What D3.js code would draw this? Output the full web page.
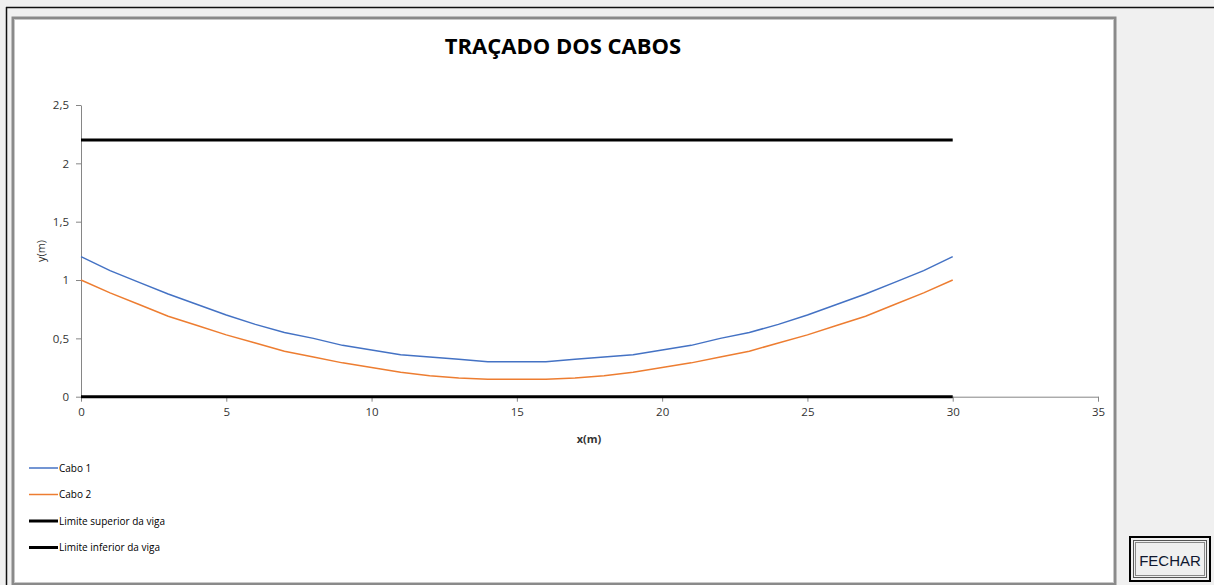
<!DOCTYPE html>
<html>
<head>
<meta charset="utf-8">
<script src="https://cdn.jsdelivr.net/npm/d3@7"></script>
<style>
  body { margin: 0; background: #f0f0f0; }
  text { font-family: "Open Sans", sans-serif; }
</style>
</head>
<body>
<div id="chart"></div>
<script>
// positions along the beam (m)
const xValues = [0,1,2,3,4,5,6,7,8,9,10,11,12,13,14,15,16,17,18,19,20,21,22,23,24,25,26,27,28,29,30];
const cabo1 = [1.20,1.08,0.98,0.88,0.79,0.70,0.62,0.55,0.50,0.44,0.40,0.36,0.34,0.32,0.30,0.30,0.30,0.32,0.34,0.36,0.40,0.44,0.50,0.55,0.62,0.70,0.79,0.88,0.98,1.08,1.20];
const cabo2 = [1.00,0.89,0.79,0.69,0.61,0.53,0.46,0.39,0.34,0.29,0.25,0.21,0.18,0.16,0.15,0.15,0.15,0.16,0.18,0.21,0.25,0.29,0.34,0.39,0.46,0.53,0.61,0.69,0.79,0.89,1.00];
const limiteX = [0, 30];
const limiteSuperior = [2.2, 2.2];
const limiteInferior = [0, 0];
const xTicks = [0,5,10,15,20,25,30,35];
const yTicks = [0,0.5,1,1.5,2,2.5];
const seriesNames = ["Cabo 1","Cabo 2","Limite superior da viga","Limite inferior da viga"];

let conf = {
    width: 1214, height: 585,
    left: 81, right: 1098, top: 105, bottom: 396.7
};

const svg = d3.select("#chart").append("svg")
    .attr("width", conf.width)
    .attr("height", conf.height);

// window frame
svg.append("rect").attr("x", 0).attr("y", 0).attr("width", conf.width).attr("height", conf.height).attr("fill", "#f0f0f0");
svg.append("line").attr("x1", 6).attr("x2", conf.width).attr("y1", 7.5).attr("y2", 7.5).attr("stroke", "#111").attr("stroke-width", 1.5);
svg.append("line").attr("x1", 6.5).attr("x2", 6.5).attr("y1", 7).attr("y2", conf.height).attr("stroke", "#111").attr("stroke-width", 1.5);
svg.append("rect").attr("x", 13).attr("y", 18).attr("width", 1102).attr("height", 566)
    .attr("fill", "#fff").attr("stroke", "#8a8a8a").attr("stroke-width", 3);
svg.append("rect").attr("x", 14.5).attr("y", 19.5).attr("width", 1099).attr("height", 563)
    .attr("fill", "none").attr("stroke", "#c8c8c8").attr("stroke-width", 1);

// title
svg.append("text")
    .attr("x", 563).attr("y", 54)
    .attr("text-anchor", "middle")
    .style("font-size", "22px").style("font-weight", "bold")
    .attr("fill", "#000")
    .text("TRAÇADO DOS CABOS");

let x = d3.scaleLinear().domain([0, 35]).range([conf.left, conf.right]);
let y = d3.scaleLinear().domain([0, 2.5]).range([conf.bottom, conf.top]);

// axes
let xAxis = svg.append("g")
    .attr("transform", `translate(0,${conf.bottom})`)
    .call(d3.axisBottom(x).tickValues(xTicks).tickSize(5).tickSizeOuter(0).tickPadding(6));
let yAxis = svg.append("g")
    .attr("transform", `translate(${conf.left},0)`)
    .call(d3.axisLeft(y).tickValues(yTicks).tickSize(5).tickSizeOuter(0).tickPadding(7)
        .tickFormat(d => String(d).replace(".", ",")));
[xAxis, yAxis].forEach(a => {
    a.select(".domain").attr("stroke", "#868686");
    a.selectAll(".tick line").attr("stroke", "#868686");
    a.selectAll(".tick text").attr("fill", "#333").style("font-size", "11.5px")
        .style("font-family", "'Open Sans', sans-serif");
});

// axis titles
svg.append("text").attr("x", 589).attr("y", 443).attr("text-anchor", "middle")
    .style("font-size", "11px").style("font-weight", "bold").attr("fill", "#333").text("x(m)");
svg.append("text").attr("transform", "translate(45,251) rotate(-90)").attr("text-anchor", "middle")
    .style("font-size", "11px").attr("fill", "#333").text("y(m)");

const line = d3.line().x(d => x(d[0])).y(d => y(d[1]));

const series = [
    { name: seriesNames[0], pts: d3.zip(xValues, cabo1), color: "#4472C4", width: 1.5 },
    { name: seriesNames[1], pts: d3.zip(xValues, cabo2), color: "#ED7D31", width: 1.5 },
    { name: seriesNames[2], pts: d3.zip(limiteX, limiteSuperior), color: "#000", width: 3 },
    { name: seriesNames[3], pts: d3.zip(limiteX, limiteInferior), color: "#000", width: 3 }
];

// draw limits first then cables
svg.append("g").selectAll("path")
    .data([series[2], series[3], series[0], series[1]])
    .join("path")
    .attr("d", d => line(d.pts))
    .attr("fill", "none")
    .attr("stroke", d => d.color)
    .attr("stroke-width", d => d.width);

// legend
const legend = svg.append("g").attr("transform", "translate(29,468)");
const item = legend.selectAll("g").data(series).join("g")
    .attr("transform", (d, i) => `translate(0,${i * 26.5})`);
item.append("line").attr("x1", 0).attr("x2", 29).attr("y1", 0).attr("y2", 0)
    .attr("stroke", d => d.color).attr("stroke-width", d => d.width);
item.append("text").attr("x", 30).attr("y", 3.5)
    .style("font-size", "10px").attr("fill", "#000").text(d => d.name);

// FECHAR button
const btn = svg.append("g");
btn.append("rect").attr("x", 1130).attr("y", 537).attr("width", 80).attr("height", 44)
    .attr("fill", "#f0f0f0").attr("stroke", "#000").attr("stroke-width", 2);
btn.append("rect").attr("x", 1133.5).attr("y", 540.5).attr("width", 73).attr("height", 37)
    .attr("fill", "none").attr("stroke", "#555").attr("stroke-width", 1);
btn.append("rect").attr("x", 1135.5).attr("y", 542.5).attr("width", 69).attr("height", 33)
    .attr("fill", "none").attr("stroke", "#222").attr("stroke-width", 1).attr("stroke-dasharray", "1,1");
btn.append("text").attr("x", 1170).attr("y", 566).attr("text-anchor", "middle")
    .style("font-size", "15px").style("font-family", "'Liberation Sans', sans-serif")
    .attr("fill", "#101830").text("FECHAR");
</script>
</body>
</html>
